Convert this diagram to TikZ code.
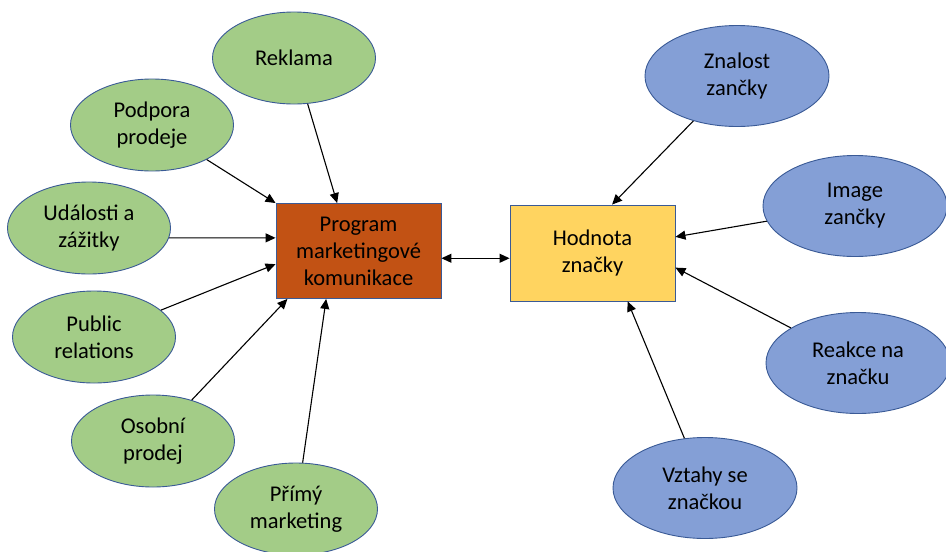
\documentclass[tikz,border=0pt]{standalone}
\usepackage{fontspec}
\setmainfont{Carlito}
\usetikzlibrary{shapes.geometric,arrows.meta}

\definecolor{grfill}{HTML}{A3CC87}
\definecolor{blfill}{HTML}{849FD6}
\definecolor{edgeblue}{HTML}{3A5A96}
\definecolor{progfill}{HTML}{C25214}
\definecolor{valfill}{HTML}{FFD460}

\begin{document}
\begin{tikzpicture}[x=1pt,y=-1pt,
    every node/.style={font=\fontsize{22.5}{27}\selectfont, align=center, inner sep=0pt},
    grell/.style={ellipse, draw=edgeblue, line width=0.9pt, fill=grfill, minimum width=163pt, minimum height=92pt},
    blell/.style={ellipse, draw=edgeblue, line width=0.9pt, fill=blfill, minimum width=184pt, minimum height=101pt},
    mainbox/.style={rectangle, draw=edgeblue, line width=0.9pt, minimum width=165pt, minimum height=95pt},
    tip/.style={Triangle[length=10pt,width=9pt]},
    link/.style={line width=1.1pt, -{Triangle[length=10pt,width=9pt]}}]
\useasboundingbox (0,0) rectangle (946,552);

% levy blok
\node[mainbox, fill=progfill] (prog) at (358.5,251) {Program\\marketingové\\komunikace};
\node[grell] (rekl) at (294,58) {Reklama};
\node[grell] (podp) at (152,125) {Podpora\\prodeje};
\node[grell] (udal) at (89,228) {Události a\\zážitky};
\node[grell] (pr) at (94,337) {Public\\relations};
\node[grell] (osob) at (153,441) {Osobní\\prodej};
\node[grell] (prim) at (296,509) {Přímý\\marketing};

% pravy blok
\node[mainbox, fill=valfill, minimum height=96pt] (hodn) at (592.5,253) {Hodnota\\značky};
\node[blell] (znal) at (737,76) {Znalost\\zančky};
\node[blell] (imag) at (855,206) {Image\\zančky};
\node[blell] (reak) at (858,363) {Reakce na\\značku};
\node[blell] (vzta) at (705,488) {Vztahy se\\značkou};

% sipky
\draw[link] (rekl) -- (prog.114);
\draw[link] (podp) -- (prog.north west);
\draw[link] (udal.-7) -- (prog.171);
\draw[link] (pr) -- (prog.189);
\draw[link] (osob) -- (prog.214);
\draw[link] (prim) -- (prog.236);
\draw[link, {Triangle[length=10pt,width=9pt]}-{Triangle[length=10pt,width=9pt]}] (prog.355) -- (prog.355 -| hodn.west);
\draw[link] (znal) -- (hodn.68);
\draw[link] (imag) -- (hodn.11);
\draw[link] (reak) -- (hodn.-10);
\draw[link] (vzta) -- (hodn.-54);
\end{tikzpicture}
\end{document}
